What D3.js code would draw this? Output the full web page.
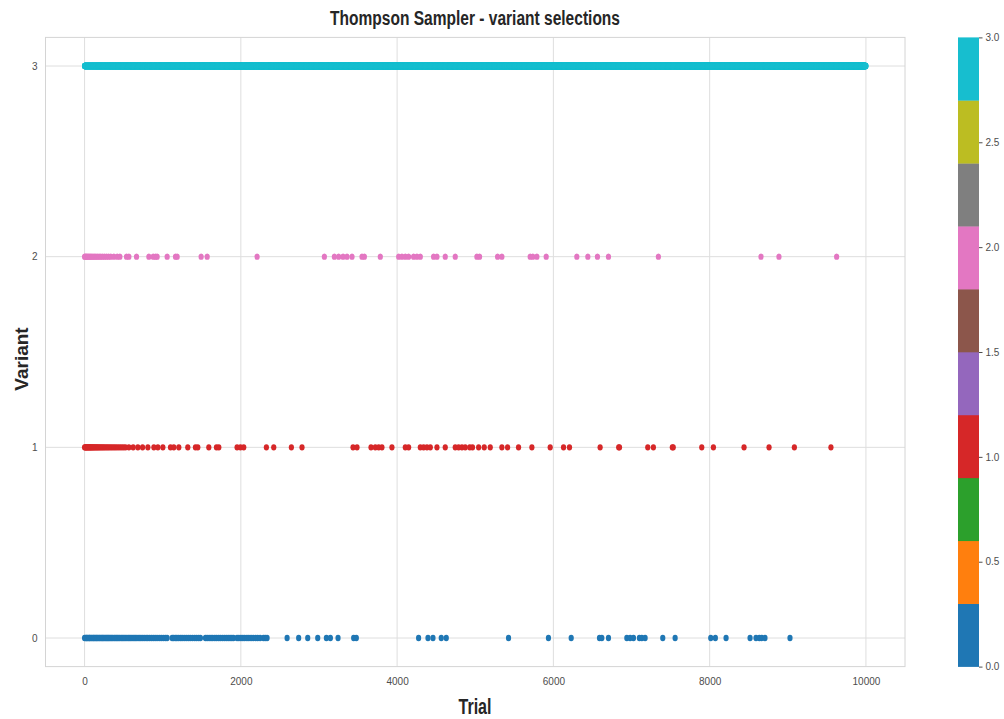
<!DOCTYPE html>
<html>
<head>
<meta charset="utf-8">
<script src="https://cdn.jsdelivr.net/npm/d3@7"></script>
<style>
  html, body { margin: 0; padding: 0; background: #ffffff; }
  svg { display: block; font-family: "Liberation Sans", Arial, sans-serif; }
</style>
</head>
<body>
<svg id="chart" width="1004" height="719"></svg>
<script>
// Trials on which each variant was chosen by the sampler.
const variant0Trials = [
  0, 12, 25, 31, 44, 58, 63, 77, 89, 102, 115, 123, 138, 150, 161, 174, 188, 199, 214, 226,
  238, 251, 266, 279, 292, 305, 318, 333, 347, 361, 378, 392, 408, 421, 437, 452, 470, 486,
  503, 519, 537, 556, 571, 590, 608, 627, 645, 662, 684, 703, 722, 744, 765, 788, 809, 832,
  856, 879, 903, 928, 955, 981, 1008, 1034, 1057,
  1121, 1140, 1162, 1181, 1204, 1228, 1249, 1275, 1301, 1327, 1352, 1380, 1408, 1433, 1460, 1483,
  1547, 1569, 1594, 1618, 1640, 1667, 1690, 1716, 1739, 1765, 1790, 1814, 1838, 1862, 1885, 1906,
  1952, 1975, 2001, 2026, 2050, 2078, 2103, 2131, 2158, 2189, 2216, 2247, 2289, 2312, 2336,
  2592, 2740, 2856, 2984, 3095, 3146, 3244, 3444, 3478,
  4275, 4395, 4459, 4565, 4629,
  5426, 5937, 6228, 6590, 6620, 6705, 6940, 6982, 7025, 7101, 7132, 7174, 7400, 7558,
  8014, 8073, 8210, 8517, 8593, 8636, 8666, 8708, 9028
];
const variant1Trials = [
  0, 8, 15, 22, 30, 38, 47, 55, 64, 72, 81, 90, 100, 110, 121, 132, 144, 156, 168, 181, 195,
  210, 225, 241, 258, 276, 294, 313, 333, 354, 376, 398, 422, 447, 472, 498, 524,
  567, 622, 682, 742, 810, 887, 938, 1002, 1100, 1142, 1206, 1321, 1419, 1449, 1590, 1688,
  1718, 1952, 1995, 2037, 2327, 2421, 2647, 2783, 3436, 3487, 3666, 3721, 3764, 3806, 3934,
  4105, 4147, 4297, 4339, 4382, 4425, 4510, 4616, 4744, 4787, 4830, 4872, 4930, 4965, 5043,
  5115, 5192, 5341, 5414, 5554, 5725, 5959, 6130, 6206, 6598, 6836, 6846, 7208, 7280, 7522,
  7534, 7899, 8048, 8440, 8760, 9084, 9552
];
const variant2Trials = [
  0, 10, 21, 33, 46, 60, 75, 91, 108, 126, 145, 165, 186, 208, 231, 255, 281, 308, 336, 375,
  418, 452, 537, 567, 665, 823, 878, 908, 929, 1057, 1164, 1185, 1492, 1569, 2208, 3069,
  3197, 3252, 3308, 3359, 3423, 3551, 3581, 3785, 4020, 4062, 4105, 4147, 4211, 4254, 4297,
  4467, 4510, 4616, 4744, 5021, 5055, 5286, 5341, 5703, 5737, 5789, 5908, 6300, 6441, 6564,
  6705, 7344, 8657, 8887, 9625
];
const trialCount = 10000;

const variantTicks = [0, 1, 2, 3];
const trialTicks = [0, 2000, 4000, 6000, 8000, 10000];
const colorbarTicks = [0.0, 0.5, 1.0, 1.5, 2.0, 2.5, 3.0];
const tab10 = ["#1f77b4", "#ff7f0e", "#2ca02c", "#d62728", "#9467bd",
               "#8c564b", "#e377c2", "#7f7f7f", "#bcbd22", "#17becf"];

// Variant 3 took every trial that none of the other variants took.
const taken = new Set([...variant0Trials, ...variant1Trials, ...variant2Trials]);
const variant3Trials = d3.range(trialCount).filter(t => !taken.has(t));

const points = [
  ...variant3Trials.map(t => ({ trial: t, variant: 3 })),
  ...variant0Trials.map(t => ({ trial: t, variant: 0 })),
  ...variant1Trials.map(t => ({ trial: t, variant: 1 })),
  ...variant2Trials.map(t => ({ trial: t, variant: 2 }))
];

const svg = d3.select("#chart");
const plot = { left: 45.5, right: 905, top: 37.4, bottom: 666.6 };

const x = d3.scaleLinear().domain([-500, 10500]).range([plot.left, plot.right]);
const y = d3.scaleLinear().domain([-0.15, 3.15]).range([plot.bottom, plot.top]);

// Discrete tab10 colour map stretched over 0..3
const color = d3.scaleQuantize().domain([0, 3]).range(tab10);

// Grid
const grid = svg.append("g");
grid.selectAll("line.vx").data(trialTicks).join("line")
  .attr("x1", d => x(d)).attr("x2", d => x(d))
  .attr("y1", plot.top).attr("y2", plot.bottom)
  .attr("stroke", "#dedede").attr("stroke-width", 1);
grid.selectAll("line.hy").data(variantTicks).join("line")
  .attr("x1", plot.left).attr("x2", plot.right)
  .attr("y1", d => y(d)).attr("y2", d => y(d))
  .attr("stroke", "#dedede").attr("stroke-width", 1);

// Frame
svg.append("rect")
  .attr("x", plot.left).attr("y", plot.top)
  .attr("width", plot.right - plot.left).attr("height", plot.bottom - plot.top)
  .attr("fill", "none").attr("stroke", "#d4d4d4").attr("stroke-width", 1);

// Selections
svg.append("g").selectAll("ellipse").data(points).join("ellipse")
  .attr("cx", d => x(d.trial))
  .attr("cy", d => y(d.variant))
  .attr("rx", 2.6).attr("ry", 3.2)
  .attr("fill", d => color(d.variant === 3 ? 2.999 : d.variant));

// Axes
const xAxis = svg.append("g")
  .attr("transform", `translate(0,${plot.bottom})`)
  .call(d3.axisBottom(x).tickValues(trialTicks).tickSize(0).tickPadding(11).tickFormat(d3.format("d")));
const yAxis = svg.append("g")
  .attr("transform", `translate(${plot.left},0)`)
  .call(d3.axisLeft(y).tickValues(variantTicks).tickSize(0).tickPadding(8).tickFormat(d3.format("d")));
[xAxis, yAxis].forEach(a => {
  a.select(".domain").remove();
  a.selectAll("text").attr("fill", "#4d4d4d").attr("font-size", 10)
    .attr("font-family", "'Liberation Sans', Arial, sans-serif");
});

// Titles
svg.append("text")
  .attr("x", 475).attr("y", 25)
  .attr("text-anchor", "middle")
  .attr("font-size", 20).attr("font-weight", "bold").attr("fill", "#262626")
  .attr("textLength", 290).attr("lengthAdjust", "spacingAndGlyphs")
  .text("Thompson Sampler - variant selections");
svg.append("text")
  .attr("x", 475).attr("y", 714)
  .attr("text-anchor", "middle")
  .attr("font-size", 22).attr("font-weight", "bold").attr("fill", "#262626")
  .attr("textLength", 33).attr("lengthAdjust", "spacingAndGlyphs")
  .text("Trial");
svg.append("text")
  .attr("transform", "translate(28,359) rotate(-90)")
  .attr("text-anchor", "middle")
  .attr("font-size", 19).attr("font-weight", "bold").attr("fill", "#262626")
  .text("Variant");

// Colour bar
const cb = { x: 958, width: 21 };
const cbScale = d3.scaleLinear().domain([0, 3]).range([plot.bottom, plot.top]);
const segments = d3.range(tab10.length).map(i => ({
  lo: 3 * i / tab10.length, hi: 3 * (i + 1) / tab10.length, c: tab10[i]
}));
svg.append("g").selectAll("rect").data(segments).join("rect")
  .attr("x", cb.x).attr("width", cb.width)
  .attr("y", d => cbScale(d.hi)).attr("height", d => cbScale(d.lo) - cbScale(d.hi) + 0.3)
  .attr("fill", d => d.c);
const cbAxis = svg.append("g")
  .attr("transform", `translate(${cb.x + cb.width},0)`)
  .call(d3.axisRight(cbScale).tickValues(colorbarTicks).tickSize(3.5).tickPadding(3).tickFormat(d3.format(".1f")));
cbAxis.select(".domain").remove();
cbAxis.selectAll("line").attr("stroke", "#4d4d4d");
cbAxis.selectAll("text").attr("fill", "#4d4d4d").attr("font-size", 10)
  .attr("font-family", "'Liberation Sans', Arial, sans-serif");
</script>
</body>
</html>
